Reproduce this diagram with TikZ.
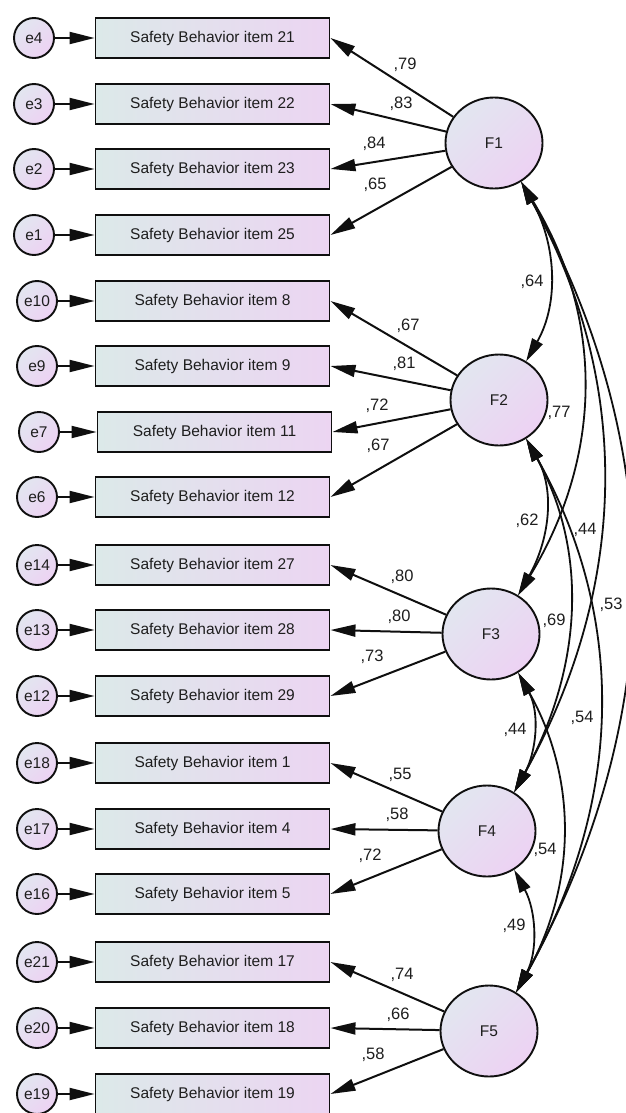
\documentclass[tikz,border=0pt]{standalone}
\usepackage{fontspec}
\setmainfont{Liberation Sans}
\usetikzlibrary{arrows.meta,shapes.geometric}
\definecolor{bl}{RGB}{220,233,233}
\definecolor{br}{RGB}{236,213,242}
\definecolor{cl}{RGB}{226,230,240}
\definecolor{cr}{RGB}{237,210,243}
\definecolor{ink}{RGB}{15,15,15}
\definecolor{txt}{RGB}{30,30,30}
\begin{document}
\begin{tikzpicture}[x=1pt,y=-1pt,
  item/.style={draw=ink, line width=1.9pt, minimum width=234pt, minimum height=40pt,
    inner sep=0pt, left color=bl, right color=br, text=txt,
    font=\fontsize{15.5}{18}\selectfont},
  err/.style={circle, draw=ink, line width=1.9pt, minimum size=40pt, inner sep=0pt,
    top color=cl, bottom color=cr, shading angle=45, text=txt,
    font=\fontsize{15.5}{18}\selectfont},
  fac/.style={ellipse, draw=ink, line width=1.9pt, minimum width=97pt, minimum height=91pt,
    inner sep=0pt, top color=cl, bottom color=cr, shading angle=45, text=txt,
    font=\fontsize{15.5}{18}\selectfont},
  arr/.style={draw=ink, line width=2pt, -{Triangle[length=25pt,width=12pt]}},
  cov/.style={draw=ink, line width=1.8pt, {Triangle[length=23pt,width=12pt]}-{Triangle[length=23pt,width=12pt]}},
  lab/.style={inner sep=0pt, text=txt, font=\fontsize{16.5}{18}\selectfont}
]
\useasboundingbox (0,0) rectangle (626,1113);
\clip (0,0) rectangle (626,1113);

% indicator boxes and error terms
\foreach \e/\i/\y/\ex/\bx in {
  e4/21/38/34/212.5, e3/22/104/34/212.5, e2/23/169/34/212.5, e1/25/235/34/212.5,
  e10/8/301/37/212.5, e9/9/366/37/212.5, e7/11/432/39/214.5, e6/12/497/37/212.5,
  e14/27/565/37/212.5, e13/28/630/37/212.5, e12/29/696/37/212.5,
  e18/1/763/37/212.5, e17/4/829/37/212.5, e16/5/894/37/212.5,
  e21/17/962/37/212.5, e20/18/1028/37/212.5, e19/19/1094/37/212.5} {
  \node[item] (i\i) at (\bx,\y) {Safety Behavior item \i};
  \node[err] (\e) at (\ex,\y) {\e};
  \draw[arr] (\e) -- (i\i);
}

% factors
\node[fac] (F1) at (494,143) {F1};
\node[fac] (F2) at (499,400) {F2};
\node[fac] (F3) at (491,634) {F3};
\node[fac] (F4) at (487,831) {F4};
\node[fac] (F5) at (489,1031) {F5};

% loadings
\draw[arr] (F1) -- (i21.east);
\draw[arr] (F1) -- (i22.east);
\draw[arr] (F1) -- (i23.east);
\draw[arr] (F1) -- (i25.east);
\draw[arr] (F2) -- (i8.east);
\draw[arr] (F2) -- (i9.east);
\draw[arr] (F2) -- (i11.east);
\draw[arr] (F2) -- (i12.east);
\draw[arr] (F3) -- (i27.east);
\draw[arr] (F3) -- (i28.east);
\draw[arr] (F3) -- (i29.east);
\draw[arr] (F4) -- (i1.east);
\draw[arr] (F4) -- (i4.east);
\draw[arr] (F4) -- (i5.east);
\draw[arr] (F5) -- (i17.east);
\draw[arr] (F5) -- (i18.east);
\draw[arr] (F5) -- (i19.east);

\node[lab] (l79) at (405,65) {,79};
\node[lab] (l83) at (401,104) {,83};
\node[lab] (l84) at (374,144) {,84};
\node[lab] (l65) at (375,185) {,65};
\node[lab] (l67a) at (408,326) {,67};
\node[lab] (l81) at (404,364) {,81};
\node[lab] (l72a) at (377,406) {,72};
\node[lab] (l67b) at (378,446) {,67};
\node[lab] (l80a) at (402,577) {,80};
\node[lab] (l80b) at (399,617) {,80};
\node[lab] (l73) at (372,657) {,73};
\node[lab] (l55) at (400,775) {,55};
\node[lab] (l58a) at (397,815) {,58};
\node[lab] (l72b) at (370,856) {,72};
\node[lab] (l74) at (402,975) {,74};
\node[lab] (l66) at (398,1015) {,66};
\node[lab] (l58b) at (373,1055) {,58};

% covariances
\draw[cov] (F1.305) .. controls +(34,60) and +(34,-60) .. (F2.55);
\draw[cov] (F2.305) .. controls +(30,53) and +(30,-53) .. (F3.55);
\draw[cov] (F3.305) .. controls +(22,40) and +(22,-40) .. (F4.55);
\draw[cov] (F4.305) .. controls +(22,41) and +(22,-41) .. (F5.55);
\draw[cov] (F1.305) .. controls +(84,138) and +(84,-138) .. (F3.55);
\draw[cov] (F1.305) .. controls +(113,204) and +(113,-204) .. (F4.55);
\draw[cov] (F1.305) .. controls +(150,271) and +(150,-271) .. (F5.55);
\draw[cov] (F2.305) .. controls +(65,118) and +(65,-118) .. (F4.55);
\draw[cov] (F2.305) .. controls +(104,185) and +(104,-185) .. (F5.55);
\draw[cov] (F3.305) .. controls +(60,107) and +(60,-107) .. (F5.55);

\node[lab] (c64) at (532,282) {,64};
\node[lab] (c77) at (559,413) {,77};
\node[lab] (c62) at (527,521) {,62};
\node[lab] (c44a) at (585,530) {,44};
\node[lab] (c53) at (611,605) {,53};
\node[lab] (c69) at (554,621) {,69};
\node[lab] (c44b) at (515,730) {,44};
\node[lab] (c54a) at (582,718) {,54};
\node[lab] (c54b) at (545,850) {,54};
\node[lab] (c49) at (514,926) {,49};
\end{tikzpicture}
\end{document}
